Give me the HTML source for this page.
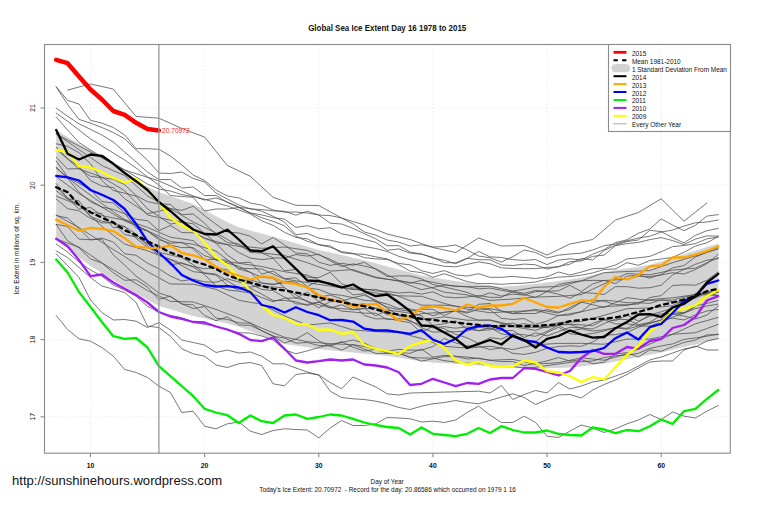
<!DOCTYPE html>
<html><head><meta charset="utf-8"><style>
html,body{margin:0;padding:0;background:#fff;}
svg{display:block;font-family:"Liberation Sans", sans-serif;}
</style></head><body>
<svg width="759" height="506" viewBox="0 0 759 506">
<rect width="759" height="506" fill="#fff"/>
<line x1="90.5" y1="44.5" x2="90.5" y2="453.2" stroke="#e8e8e8" stroke-width="0.8" stroke-dasharray="1.5,2"/>
<line x1="204.6" y1="44.5" x2="204.6" y2="453.2" stroke="#e8e8e8" stroke-width="0.8" stroke-dasharray="1.5,2"/>
<line x1="318.8" y1="44.5" x2="318.8" y2="453.2" stroke="#e8e8e8" stroke-width="0.8" stroke-dasharray="1.5,2"/>
<line x1="432.9" y1="44.5" x2="432.9" y2="453.2" stroke="#e8e8e8" stroke-width="0.8" stroke-dasharray="1.5,2"/>
<line x1="547.0" y1="44.5" x2="547.0" y2="453.2" stroke="#e8e8e8" stroke-width="0.8" stroke-dasharray="1.5,2"/>
<line x1="661.2" y1="44.5" x2="661.2" y2="453.2" stroke="#e8e8e8" stroke-width="0.8" stroke-dasharray="1.5,2"/>
<line x1="44.5" y1="416.8" x2="730.3" y2="416.8" stroke="#e8e8e8" stroke-width="0.8" stroke-dasharray="1.5,2"/>
<line x1="44.5" y1="339.6" x2="730.3" y2="339.6" stroke="#e8e8e8" stroke-width="0.8" stroke-dasharray="1.5,2"/>
<line x1="44.5" y1="262.4" x2="730.3" y2="262.4" stroke="#e8e8e8" stroke-width="0.8" stroke-dasharray="1.5,2"/>
<line x1="44.5" y1="185.2" x2="730.3" y2="185.2" stroke="#e8e8e8" stroke-width="0.8" stroke-dasharray="1.5,2"/>
<line x1="44.5" y1="108.0" x2="730.3" y2="108.0" stroke="#e8e8e8" stroke-width="0.8" stroke-dasharray="1.5,2"/>
<polygon points="56.2,130.0 67.6,137.0 79.0,144.0 90.5,150.0 101.9,157.5 113.3,165.0 124.7,172.5 136.1,180.0 147.5,187.0 158.9,192.0 170.4,196.0 181.8,200.0 193.2,204.0 204.6,210.1 216.0,216.2 227.4,222.3 238.8,227.3 250.3,230.5 261.7,233.6 273.1,236.8 284.5,240.0 295.9,243.3 307.3,246.7 318.8,250.0 330.2,252.6 341.6,255.1 353.0,257.7 364.4,260.2 375.8,263.2 387.2,266.4 398.7,269.5 410.1,272.4 421.5,275.4 432.9,277.5 444.3,279.3 455.7,281.1 467.1,282.8 478.6,284.3 490.0,285.8 501.4,286.8 512.8,285.9 524.2,285.0 535.6,284.1 547.0,282.6 558.5,281.1 569.9,279.6 581.3,277.5 592.7,274.9 604.1,272.3 615.5,270.1 627.0,268.4 638.4,266.7 649.8,265.0 661.2,261.4 672.6,257.8 684.0,254.2 695.4,250.7 706.9,247.1 718.3,243.5 718.3,339.0 706.9,341.7 695.4,344.4 684.0,347.1 672.6,349.8 661.2,352.5 649.8,354.8 638.4,357.0 627.0,359.2 615.5,361.5 604.1,363.8 592.7,365.1 581.3,366.5 569.9,367.6 558.5,367.9 547.0,368.2 535.6,368.5 524.2,368.1 512.8,367.6 501.4,366.9 490.0,366.1 478.6,365.4 467.1,364.6 455.7,363.8 444.3,363.2 432.9,362.5 421.5,361.6 410.1,359.6 398.7,357.5 387.2,355.9 375.8,354.8 364.4,353.7 353.0,352.5 341.6,351.3 330.2,350.2 318.8,349.0 307.3,347.3 295.9,345.7 284.5,344.0 273.1,339.7 261.7,335.4 250.3,331.0 238.8,326.7 227.4,323.5 216.0,321.0 204.6,318.5 193.2,316.0 181.8,312.7 170.4,309.3 158.9,306.0 147.5,299.7 136.1,293.3 124.7,287.0 113.3,280.0 101.9,273.0 90.5,266.0 79.0,257.2 67.6,248.3 56.2,239.5" fill="#d3d3d3" stroke="none"/>
<polyline points="67.6,90.1 79.0,87.0 90.5,84.0 101.9,86.5 113.3,89.1 124.7,102.8 136.1,116.5 147.5,117.3 158.9,118.2 170.4,123.3 181.8,128.5 193.2,132.8 204.6,137.1 216.0,151.3 227.4,165.5 238.8,170.9 250.3,176.3 261.7,186.8 273.1,197.3 284.5,201.3 295.9,205.3 307.3,205.4 318.8,205.5 330.2,211.8 341.6,218.0 353.0,221.5 364.4,225.0 375.8,229.5 387.2,234.0 398.7,236.8 410.1,239.5 421.5,243.5 432.9,247.5 444.3,250.0 455.7,252.5 467.1,245.2 478.6,238.0 490.0,242.0 501.4,246.0 512.8,245.8 524.2,245.5 535.6,250.2 547.0,255.0 558.5,249.5 569.9,244.0 581.3,241.8 592.7,239.5 604.1,229.8 615.5,220.0 627.0,216.2 638.4,212.5 649.8,205.6 661.2,198.8 672.6,210.0 684.0,221.2 695.4,212.1 706.9,203.0" fill="none" stroke="#4a4a4a" stroke-width="0.75" stroke-linejoin="round" stroke-linecap="round" />
<polyline points="56.2,86.7 67.6,100.4 79.0,104.0 90.5,120.3 101.9,123.1 113.3,127.5 124.7,135.0 136.1,148.7 147.5,148.7 158.9,149.3 170.4,156.0 181.8,165.0 193.2,175.0 204.6,180.5 216.0,190.0 227.4,196.0 238.8,197.9 250.3,203.0 261.7,205.1 273.1,210.0 284.5,212.2 295.9,212.0 307.3,213.0 318.8,215.0 330.2,215.6 341.6,218.0 353.0,223.9 364.4,232.0 375.8,235.2 387.2,240.0 398.7,242.1 410.1,246.0 421.5,244.8 432.9,247.0 444.3,246.6 455.7,245.0 467.1,249.9 478.6,256.0 490.0,257.8 501.4,262.0 512.8,256.7 524.2,250.0 535.6,252.5 547.0,258.0 558.5,255.2 569.9,254.0 581.3,253.2 592.7,250.0 604.1,245.7 615.5,244.0 627.0,240.8 638.4,238.0 649.8,236.2 661.2,232.0 672.6,230.1 684.0,226.0 695.4,222.8 706.9,222.0 718.3,220.0" fill="none" stroke="#4a4a4a" stroke-width="0.75" stroke-linejoin="round" stroke-linecap="round" />
<polyline points="56.2,87.0 67.6,104.4 79.0,119.4 90.5,123.1 101.9,127.5 113.3,132.5 124.7,138.8 136.1,150.0 147.5,160.0 158.9,173.0 170.4,173.5 181.8,172.0 193.2,178.5 204.6,182.0 216.0,193.0 227.4,199.0 238.8,205.0 250.3,209.0 261.7,209.6 273.1,210.8 284.5,211.2 295.9,215.2 307.3,211.2 318.8,215.0 330.2,223.2 341.6,224.0 353.0,228.4 364.4,233.7 375.8,238.9 387.2,245.7 398.7,245.6 410.1,252.0 421.5,253.9 432.9,258.1 444.3,260.3 455.7,263.7 467.1,258.5 478.6,251.4 490.0,256.9 501.4,257.5 512.8,259.7 524.2,260.4 535.6,259.6 547.0,264.6 558.5,260.1 569.9,258.8 581.3,260.0 592.7,254.2 604.1,249.7 615.5,242.6 627.0,239.8 638.4,233.2 649.8,229.1 661.2,218.9 672.6,225.0 684.0,230.7 695.4,225.3 706.9,216.1 718.3,214.6" fill="none" stroke="#4a4a4a" stroke-width="0.75" stroke-linejoin="round" stroke-linecap="round" />
<polyline points="56.2,108.1 67.6,116.3 79.0,123.8 90.5,129.4 101.9,135.0 113.3,142.0 124.7,152.0 136.1,162.0 147.5,172.0 158.9,179.5 170.4,179.5 181.8,188.0 193.2,187.0 204.6,195.5 216.0,195.5 227.4,202.5 238.8,207.5 250.3,213.0 261.7,214.9 273.1,217.7 284.5,219.1 295.9,227.4 307.3,225.7 318.8,228.8 330.2,227.7 341.6,233.8 353.0,236.0 364.4,239.2 375.8,242.4 387.2,250.4 398.7,248.9 410.1,253.2 421.5,254.3 432.9,257.2 444.3,262.7 455.7,262.8 467.1,258.3 478.6,259.7 490.0,259.8 501.4,265.0 512.8,265.5 524.2,264.1 535.6,264.8 547.0,269.1 558.5,266.4 569.9,264.2 581.3,258.4 592.7,260.0 604.1,250.5 615.5,245.2 627.0,241.5 638.4,240.0 649.8,230.3 661.2,231.6 672.6,237.7 684.0,242.9 695.4,235.3 706.9,230.7 718.3,228.4" fill="none" stroke="#4a4a4a" stroke-width="0.75" stroke-linejoin="round" stroke-linecap="round" />
<polyline points="56.2,113.1 67.6,121.3 79.0,130.0 90.5,138.8 101.9,146.0 113.3,153.0 124.7,160.0 136.1,168.0 147.5,177.0 158.9,185.0 170.4,195.5 181.8,196.5 193.2,197.3 204.6,211.0 216.0,209.0 227.4,209.0 238.8,207.5 250.3,208.5 261.7,211.2 273.1,216.3 284.5,222.1 295.9,234.7 307.3,233.4 318.8,238.1 330.2,240.2 341.6,242.7 353.0,243.6 364.4,246.6 375.8,248.5 387.2,251.5 398.7,256.3 410.1,259.6 421.5,261.9 432.9,264.0 444.3,266.3 455.7,266.8 467.1,264.4 478.6,261.9 490.0,263.7 501.4,267.8 512.8,268.5 524.2,268.7 535.6,268.6 547.0,267.4 558.5,267.0 569.9,261.7 581.3,260.9 592.7,256.4 604.1,255.1 615.5,245.7 627.0,243.6 638.4,242.4 649.8,239.6 661.2,237.6 672.6,240.6 684.0,244.6 695.4,239.1 706.9,235.9 718.3,236.1" fill="none" stroke="#4a4a4a" stroke-width="0.75" stroke-linejoin="round" stroke-linecap="round" />
<polyline points="56.2,116.9 67.6,130.0 79.0,142.5 90.5,150.0 101.9,157.0 113.3,163.0 124.7,170.0 136.1,177.0 147.5,184.0 158.9,189.0 170.4,191.0 181.8,194.6 193.2,196.5 204.6,200.0 216.0,198.0 227.4,202.0 238.8,207.0 250.3,213.0 261.7,217.7 273.1,221.3 284.5,225.8 295.9,236.2 307.3,241.3 318.8,244.6 330.2,246.0 341.6,252.7 353.0,253.8 364.4,254.3 375.8,256.9 387.2,258.8 398.7,264.7 410.1,271.2 421.5,272.6 432.9,277.3 444.3,273.7 455.7,277.7 467.1,281.6 478.6,283.7 490.0,283.5 501.4,284.3 512.8,283.5 524.2,283.2 535.6,282.0 547.0,278.8 558.5,277.1 569.9,276.6 581.3,275.2 592.7,272.9 604.1,269.5 615.5,268.9 627.0,262.7 638.4,265.3 649.8,260.5 661.2,259.0 672.6,257.4 684.0,252.3 695.4,246.0 706.9,242.8 718.3,236.6" fill="none" stroke="#4a4a4a" stroke-width="0.75" stroke-linejoin="round" stroke-linecap="round" />
<polyline points="56.2,134.0 67.6,140.0 79.0,146.0 90.5,152.0 101.9,158.0 113.3,164.0 124.7,170.0 136.1,173.7 147.5,177.3 158.9,181.0 170.4,186.0 181.8,191.0 193.2,196.0 204.6,199.3 216.0,202.7 227.4,206.0 238.8,210.0 250.3,214.0 261.7,220.8 273.1,225.4 284.5,232.3 295.9,237.4 307.3,238.8 318.8,244.8 330.2,247.2 341.6,251.6 353.0,253.4 364.4,257.7 375.8,258.9 387.2,259.5 398.7,263.5 410.1,264.8 421.5,270.7 432.9,273.5 444.3,270.6 455.7,274.9 467.1,276.1 478.6,273.7 490.0,277.3 501.4,277.3 512.8,276.4 524.2,277.5 535.6,278.5 547.0,276.8 558.5,272.0 569.9,275.0 581.3,272.1 592.7,268.7 604.1,268.3 615.5,265.0 627.0,258.9 638.4,257.8 649.8,256.4 661.2,251.8 672.6,246.6 684.0,245.5 695.4,243.6 706.9,238.8 718.3,237.0" fill="none" stroke="#4a4a4a" stroke-width="0.75" stroke-linejoin="round" stroke-linecap="round" />
<polyline points="56.2,253.8 67.6,265.6 79.0,277.5 90.5,300.0 101.9,312.5 113.3,320.0 124.7,319.5 136.1,321.2 147.5,327.5 158.9,322.5 170.4,330.0 181.8,340.0 193.2,342.5 204.6,345.0 216.0,352.5 227.4,350.0 238.8,353.0 250.3,352.0 261.7,356.2 273.1,363.8 284.5,363.8 295.9,368.0 307.3,372.0 318.8,375.0 330.2,391.2 341.6,397.5 353.0,398.8 364.4,399.5 375.8,401.2 387.2,403.8 398.7,407.5 410.1,409.5 421.5,406.2 432.9,403.8 444.3,402.5 455.7,400.5 467.1,402.5 478.6,403.8 490.0,400.4 501.4,397.1 512.8,393.8 524.2,397.5 535.6,404.5 547.0,399.5 558.5,395.0 569.9,394.5 581.3,398.0 592.7,390.0 604.1,384.5 615.5,380.0 627.0,374.5 638.4,368.0 649.8,362.0 661.2,361.0 672.6,361.0 684.0,350.0 695.4,346.0 706.9,350.0 718.3,350.0" fill="none" stroke="#4a4a4a" stroke-width="0.75" stroke-linejoin="round" stroke-linecap="round" />
<polyline points="56.2,251.0 67.6,257.5 79.0,267.5 90.5,277.5 101.9,286.0 113.3,289.2 124.7,292.5 136.1,302.5 147.5,326.2 158.9,327.5 170.4,336.2 181.8,348.8 193.2,353.8 204.6,356.2 216.0,365.0 227.4,367.5 238.8,363.8 250.3,362.5 261.7,365.5 273.1,383.8 284.5,385.8 295.9,374.5 307.3,373.0 318.8,375.0 330.2,382.5 341.6,388.8 353.0,377.0 364.4,382.0 375.8,387.0 387.2,393.8 398.7,395.0 410.1,393.0 421.5,392.7 432.9,392.4 444.3,392.1 455.7,391.8 467.1,391.5 478.6,391.2 490.0,393.0 501.4,385.5 512.8,399.5 524.2,394.5 535.6,390.5 547.0,393.0 558.5,382.5 569.9,389.0 581.3,386.0 592.7,382.0 604.1,380.0 615.5,376.0 627.0,372.0 638.4,366.0 649.8,360.0 661.2,357.0 672.6,353.0 684.0,349.0 695.4,347.0 706.9,341.0 718.3,338.5" fill="none" stroke="#4a4a4a" stroke-width="0.75" stroke-linejoin="round" stroke-linecap="round" />
<polyline points="56.2,315.5 67.6,329.5 79.0,338.8 90.5,341.2 101.9,347.5 113.3,356.2 124.7,369.5 136.1,372.5 147.5,377.5 158.9,386.2 170.4,392.5 181.8,412.5 193.2,411.2 204.6,426.2 216.0,428.8 227.4,423.8 238.8,422.0 250.3,431.2 261.7,434.5 273.1,430.5 284.5,428.8 295.9,429.5 307.3,430.0 318.8,438.0 330.2,428.0 341.6,420.5 353.0,425.5 364.4,425.5 375.8,423.8 387.2,417.5 398.7,418.0 410.1,418.8 421.5,422.0 432.9,421.2 444.3,422.5 455.7,420.0 467.1,412.5 478.6,406.2 490.0,415.0 501.4,422.5 512.8,422.5 524.2,416.2 535.6,422.5 547.0,436.2 558.5,437.5 569.9,431.2 581.3,425.0 592.7,428.0 604.1,432.5 615.5,428.8 627.0,423.8 638.4,420.0 649.8,414.5 661.2,419.5 672.6,412.0 684.0,416.2 695.4,418.0 706.9,411.2 718.3,405.5" fill="none" stroke="#4a4a4a" stroke-width="0.75" stroke-linejoin="round" stroke-linecap="round" />
<polyline points="56.2,244.0 67.6,252.1 79.0,262.1 90.5,270.0 101.9,276.2 113.3,285.0 124.7,290.0 136.1,296.3 147.5,306.3 158.9,312.0 170.4,315.4 181.8,317.7 193.2,322.0 204.6,324.5 216.0,326.0 227.4,330.0 238.8,332.7 250.3,333.1 261.7,336.0 273.1,340.0 284.5,349.8 295.9,353.8 307.3,350.9 318.8,347.5 330.2,344.5 341.6,342.5 353.0,340.0 364.4,343.1 375.8,348.4 387.2,352.0 398.7,353.0 410.1,357.3 421.5,358.0 432.9,358.0 444.3,360.7 455.7,362.0 467.1,363.2 478.6,363.2 490.0,365.0 501.4,367.0 512.8,366.6 524.2,368.0 535.6,367.2 547.0,365.6 558.5,364.0 569.9,362.3 581.3,361.6 592.7,361.0 604.1,357.5 615.5,355.8 627.0,355.0 638.4,353.3 649.8,348.4 661.2,346.0 672.6,343.9 684.0,339.3 695.4,338.0 706.9,336.2 718.3,334.0" fill="none" stroke="#4a4a4a" stroke-width="0.75" stroke-linejoin="round" stroke-linecap="round" />
<polyline points="56.2,133.8 67.6,141.7 79.0,149.6 90.5,157.5 101.9,165.5 113.3,170.6 124.7,175.6 136.1,185.7 147.5,195.9 158.9,202.3 170.4,208.7 181.8,215.3 193.2,222.0 204.6,227.4 216.0,232.9 227.4,239.4 238.8,245.8 250.3,247.1 261.7,248.3 273.1,247.7 284.5,247.0 295.9,248.7 307.3,250.5 318.8,254.9 330.2,259.3 341.6,265.0 353.0,270.6 364.4,274.2 375.8,277.8 387.2,279.3 398.7,280.8 410.1,282.5 421.5,284.1 432.9,288.2 444.3,292.2 455.7,293.5 467.1,294.9 478.6,297.6 490.0,300.4 501.4,299.7 512.8,299.0 524.2,298.0 535.6,297.1 547.0,296.7 558.5,296.4 569.9,295.5 581.3,294.6 592.7,289.2 604.1,283.8 615.5,278.7 627.0,273.6 638.4,274.2 649.8,274.8 661.2,272.4 672.6,270.1 684.0,269.1 695.4,268.1 706.9,262.8 718.3,257.6" fill="none" stroke="#4a4a4a" stroke-width="0.75" stroke-linejoin="round" stroke-linecap="round" />
<polyline points="56.2,147.2 67.6,158.8 79.0,166.4 90.5,180.6 101.9,186.0 113.3,187.5 124.7,198.7 136.1,206.1 147.5,213.7 158.9,211.2 170.4,208.5 181.8,210.4 193.2,206.2 204.6,215.6 216.0,224.3 227.4,232.1 238.8,233.0 250.3,236.2 261.7,244.0 273.1,237.4 284.5,245.0 295.9,253.0 307.3,253.8 318.8,262.2 330.2,265.4 341.6,263.3 353.0,265.2 364.4,262.3 375.8,269.3 387.2,276.5 398.7,275.9 410.1,276.0 421.5,278.9 432.9,284.4 444.3,287.0 455.7,289.6 467.1,292.4 478.6,296.9 490.0,292.8 501.4,296.1 512.8,294.1 524.2,295.1 535.6,291.6 547.0,291.2 558.5,290.8 569.9,285.3 581.3,291.5 592.7,284.0 604.1,280.4 615.5,283.6 627.0,276.2 638.4,275.0 649.8,278.1 661.2,274.4 672.6,267.9 684.0,265.6 695.4,257.0 706.9,252.3 718.3,247.7" fill="none" stroke="#4a4a4a" stroke-width="0.75" stroke-linejoin="round" stroke-linecap="round" />
<polyline points="56.2,143.8 67.6,146.3 79.0,152.7 90.5,163.8 101.9,180.5 113.3,190.5 124.7,193.2 136.1,196.2 147.5,208.9 158.9,216.3 170.4,224.2 181.8,221.6 193.2,231.7 204.6,238.4 216.0,241.4 227.4,244.7 238.8,252.5 250.3,258.1 261.7,259.6 273.1,258.4 284.5,270.8 295.9,269.5 307.3,277.2 318.8,277.6 330.2,272.3 341.6,283.7 353.0,287.9 364.4,288.9 375.8,291.0 387.2,291.4 398.7,293.0 410.1,292.2 421.5,294.1 432.9,291.8 444.3,296.9 455.7,297.8 467.1,297.0 478.6,295.5 490.0,297.3 501.4,297.3 512.8,291.3 524.2,293.3 535.6,290.5 547.0,291.3 558.5,284.4 569.9,282.3 581.3,280.8 592.7,280.4 604.1,280.5 615.5,279.9 627.0,279.4 638.4,276.2 649.8,276.6 661.2,275.0 672.6,272.7 684.0,274.0 695.4,269.6 706.9,263.7 718.3,254.2" fill="none" stroke="#4a4a4a" stroke-width="0.75" stroke-linejoin="round" stroke-linecap="round" />
<polyline points="56.2,149.1 67.6,159.0 79.0,169.0 90.5,173.0 101.9,177.1 113.3,183.9 124.7,190.7 136.1,202.8 147.5,215.0 158.9,217.6 170.4,220.2 181.8,222.0 193.2,223.8 204.6,233.4 216.0,243.0 227.4,244.6 238.8,246.3 250.3,249.5 261.7,252.8 273.1,254.2 284.5,255.6 295.9,259.2 307.3,262.7 318.8,266.9 330.2,271.1 341.6,270.4 353.0,269.6 364.4,273.4 375.8,277.1 387.2,279.1 398.7,281.1 410.1,285.4 421.5,289.7 432.9,287.4 444.3,285.1 455.7,286.0 467.1,286.9 478.6,286.6 490.0,286.2 501.4,288.7 512.8,291.1 524.2,289.2 535.6,287.3 547.0,286.9 558.5,286.5 569.9,283.7 581.3,280.9 592.7,276.8 604.1,272.7 615.5,272.1 627.0,271.5 638.4,271.1 649.8,270.6 661.2,266.6 672.6,262.7 684.0,259.3 695.4,255.9 706.9,252.4 718.3,248.9" fill="none" stroke="#4a4a4a" stroke-width="0.75" stroke-linejoin="round" stroke-linecap="round" />
<polyline points="56.2,157.3 67.6,169.0 79.0,168.6 90.5,176.3 101.9,177.8 113.3,179.2 124.7,184.7 136.1,195.5 147.5,201.7 158.9,203.9 170.4,204.4 181.8,214.7 193.2,214.0 204.6,223.2 216.0,234.7 227.4,242.6 238.8,243.9 250.3,252.4 261.7,253.0 273.1,257.8 284.5,258.2 295.9,254.5 307.3,256.1 318.8,254.3 330.2,260.8 341.6,266.6 353.0,263.9 364.4,266.0 375.8,268.8 387.2,274.9 398.7,280.4 410.1,283.1 421.5,280.3 432.9,282.2 444.3,284.6 455.7,286.4 467.1,286.6 478.6,288.8 490.0,288.1 501.4,290.3 512.8,292.1 524.2,294.6 535.6,297.4 547.0,291.6 558.5,294.2 569.9,298.2 581.3,292.6 592.7,293.2 604.1,294.5 615.5,286.6 627.0,286.7 638.4,288.2 649.8,287.7 661.2,285.2 672.6,274.9 684.0,269.4 695.4,264.3 706.9,260.3 718.3,258.6" fill="none" stroke="#4a4a4a" stroke-width="0.75" stroke-linejoin="round" stroke-linecap="round" />
<polyline points="56.2,160.9 67.6,177.0 79.0,183.4 90.5,189.7 101.9,201.5 113.3,203.0 124.7,213.1 136.1,228.0 147.5,231.1 158.9,238.2 170.4,245.1 181.8,247.6 193.2,247.6 204.6,255.7 216.0,259.4 227.4,260.1 238.8,269.0 250.3,272.3 261.7,277.2 273.1,278.4 284.5,287.5 295.9,298.3 307.3,292.0 318.8,301.5 330.2,298.6 341.6,301.2 353.0,297.6 364.4,295.2 375.8,300.2 387.2,308.2 398.7,315.7 410.1,316.5 421.5,313.7 432.9,312.9 444.3,312.6 455.7,310.6 467.1,313.1 478.6,309.0 490.0,309.8 501.4,318.4 512.8,319.5 524.2,318.5 535.6,324.4 547.0,321.1 558.5,315.5 569.9,315.0 581.3,311.6 592.7,302.7 604.1,300.2 615.5,301.2 627.0,302.7 638.4,302.8 649.8,303.4 661.2,299.8 672.6,301.6 684.0,302.4 695.4,293.3 706.9,293.2 718.3,291.1" fill="none" stroke="#4a4a4a" stroke-width="0.75" stroke-linejoin="round" stroke-linecap="round" />
<polyline points="56.2,168.0 67.6,177.4 79.0,186.8 90.5,195.2 101.9,203.7 113.3,211.6 124.7,219.6 136.1,223.5 147.5,227.4 158.9,232.3 170.4,237.2 181.8,238.9 193.2,240.6 204.6,250.3 216.0,260.1 227.4,261.7 238.8,263.3 250.3,264.9 261.7,266.5 273.1,269.1 284.5,271.7 295.9,273.4 307.3,275.1 318.8,279.9 330.2,284.7 341.6,286.8 353.0,288.9 364.4,291.0 375.8,293.1 387.2,294.5 398.7,295.8 410.1,296.1 421.5,296.3 432.9,299.8 444.3,303.4 455.7,306.3 467.1,309.2 478.6,311.0 490.0,312.8 501.4,312.1 512.8,311.4 524.2,311.0 535.6,310.6 547.0,313.1 558.5,315.6 569.9,313.7 581.3,311.8 592.7,309.2 604.1,306.6 615.5,306.0 627.0,305.4 638.4,302.5 649.8,299.6 661.2,298.7 672.6,297.8 684.0,296.2 695.4,294.5 706.9,292.2 718.3,289.9" fill="none" stroke="#4a4a4a" stroke-width="0.75" stroke-linejoin="round" stroke-linecap="round" />
<polyline points="56.2,167.2 67.6,178.3 79.0,192.2 90.5,201.7 101.9,207.1 113.3,209.4 124.7,213.9 136.1,219.3 147.5,220.7 158.9,230.7 170.4,225.4 181.8,232.6 193.2,232.8 204.6,237.9 216.0,243.2 227.4,255.1 238.8,263.0 250.3,262.1 261.7,274.0 273.1,271.1 284.5,278.6 295.9,277.9 307.3,286.6 318.8,280.8 330.2,283.3 341.6,286.1 353.0,294.9 364.4,293.7 375.8,301.8 387.2,307.1 398.7,309.7 410.1,311.3 421.5,309.2 432.9,309.3 444.3,315.6 455.7,310.1 467.1,312.1 478.6,304.3 490.0,303.5 501.4,311.2 512.8,313.7 524.2,313.5 535.6,313.5 547.0,309.5 558.5,312.2 569.9,309.5 581.3,302.3 592.7,299.8 604.1,301.2 615.5,304.6 627.0,304.8 638.4,304.0 649.8,297.5 661.2,295.6 672.6,285.6 684.0,284.8 695.4,285.2 706.9,280.3 718.3,271.9" fill="none" stroke="#4a4a4a" stroke-width="0.75" stroke-linejoin="round" stroke-linecap="round" />
<polyline points="56.2,183.6 67.6,198.7 79.0,200.8 90.5,216.6 101.9,221.2 113.3,223.2 124.7,226.5 136.1,238.4 147.5,247.4 158.9,252.2 170.4,265.0 181.8,262.8 193.2,266.9 204.6,274.7 216.0,285.8 227.4,290.0 238.8,291.2 250.3,293.1 261.7,297.5 273.1,301.7 284.5,298.3 295.9,297.9 307.3,300.8 318.8,307.9 330.2,301.5 341.6,301.2 353.0,305.1 364.4,303.8 375.8,308.8 387.2,314.7 398.7,314.4 410.1,321.4 421.5,325.0 432.9,327.8 444.3,326.7 455.7,328.2 467.1,326.8 478.6,330.9 490.0,327.5 501.4,333.9 512.8,335.4 524.2,339.4 535.6,341.7 547.0,332.5 558.5,327.2 569.9,333.7 581.3,334.8 592.7,333.5 604.1,331.0 615.5,327.4 627.0,328.4 638.4,321.8 649.8,314.9 661.2,311.8 672.6,308.0 684.0,300.2 695.4,298.2 706.9,293.1 718.3,295.4" fill="none" stroke="#4a4a4a" stroke-width="0.75" stroke-linejoin="round" stroke-linecap="round" />
<polyline points="56.2,176.6 67.6,185.1 79.0,193.5 90.5,200.4 101.9,207.2 113.3,214.0 124.7,220.8 136.1,225.8 147.5,230.8 158.9,236.2 170.4,241.5 181.8,242.8 193.2,244.2 204.6,247.6 216.0,251.1 227.4,259.7 238.8,268.2 250.3,268.6 261.7,269.0 273.1,274.0 284.5,279.0 295.9,280.8 307.3,282.6 318.8,284.4 330.2,286.1 341.6,287.9 353.0,289.6 364.4,289.5 375.8,289.4 387.2,292.8 398.7,296.2 410.1,300.7 421.5,305.2 432.9,305.2 444.3,305.2 455.7,306.2 467.1,307.3 478.6,308.0 490.0,308.6 501.4,310.9 512.8,313.2 524.2,311.3 535.6,309.4 547.0,311.2 558.5,313.1 569.9,307.5 581.3,302.0 592.7,304.7 604.1,307.5 615.5,302.6 627.0,297.7 638.4,299.1 649.8,300.5 661.2,300.2 672.6,300.0 684.0,297.3 695.4,294.6 706.9,293.2 718.3,291.9" fill="none" stroke="#4a4a4a" stroke-width="0.75" stroke-linejoin="round" stroke-linecap="round" />
<polyline points="56.2,190.7 67.6,199.1 79.0,204.7 90.5,212.4 101.9,213.5 113.3,227.8 124.7,226.7 136.1,234.0 147.5,245.7 158.9,255.4 170.4,259.3 181.8,263.5 193.2,266.6 204.6,268.7 216.0,267.9 227.4,269.9 238.8,280.4 250.3,280.1 261.7,283.1 273.1,284.2 284.5,282.9 295.9,283.2 307.3,287.8 318.8,297.3 330.2,295.0 341.6,298.9 353.0,304.5 364.4,315.5 375.8,318.9 387.2,318.6 398.7,320.6 410.1,322.7 421.5,332.7 432.9,326.1 444.3,328.7 455.7,334.4 467.1,337.8 478.6,343.5 490.0,337.7 501.4,339.0 512.8,333.8 524.2,334.8 535.6,336.3 547.0,331.4 558.5,325.0 569.9,324.5 581.3,328.1 592.7,329.0 604.1,323.5 615.5,319.1 627.0,319.6 638.4,324.7 649.8,322.3 661.2,315.4 672.6,314.2 684.0,316.0 695.4,319.0 706.9,315.1 718.3,306.0" fill="none" stroke="#4a4a4a" stroke-width="0.75" stroke-linejoin="round" stroke-linecap="round" />
<polyline points="56.2,186.9 67.6,198.1 79.0,209.1 90.5,207.5 101.9,215.6 113.3,218.0 124.7,219.9 136.1,225.2 147.5,230.9 158.9,239.7 170.4,243.3 181.8,242.3 193.2,249.0 204.6,259.4 216.0,259.6 227.4,263.1 238.8,266.3 250.3,272.3 261.7,283.0 273.1,284.7 284.5,281.2 295.9,282.1 307.3,288.0 318.8,289.4 330.2,294.1 341.6,295.3 353.0,297.6 364.4,300.3 375.8,301.1 387.2,304.1 398.7,308.5 410.1,308.9 421.5,311.7 432.9,315.7 444.3,312.1 455.7,311.0 467.1,316.5 478.6,320.2 490.0,320.0 501.4,322.5 512.8,325.6 524.2,323.7 535.6,325.6 547.0,327.4 558.5,325.4 569.9,331.4 581.3,328.8 592.7,331.0 604.1,329.8 615.5,327.7 627.0,329.2 638.4,326.0 649.8,326.2 661.2,322.0 672.6,317.2 684.0,312.9 695.4,306.9 706.9,294.4 718.3,292.2" fill="none" stroke="#4a4a4a" stroke-width="0.75" stroke-linejoin="round" stroke-linecap="round" />
<polyline points="56.2,196.1 67.6,200.7 79.0,205.4 90.5,215.9 101.9,226.4 113.3,235.3 124.7,244.1 136.1,247.5 147.5,250.8 158.9,255.2 170.4,259.6 181.8,265.6 193.2,271.7 204.6,272.9 216.0,274.1 227.4,280.9 238.8,287.7 250.3,286.9 261.7,286.2 273.1,287.0 284.5,287.9 295.9,294.8 307.3,301.8 318.8,304.7 330.2,307.7 341.6,308.6 353.0,309.6 364.4,308.7 375.8,307.8 387.2,311.7 398.7,315.6 410.1,317.7 421.5,319.9 432.9,318.3 444.3,316.8 455.7,318.5 467.1,320.2 478.6,320.2 490.0,320.2 501.4,323.4 512.8,326.6 524.2,328.5 535.6,330.3 547.0,326.4 558.5,322.5 569.9,322.0 581.3,321.5 592.7,318.4 604.1,315.3 615.5,312.0 627.0,308.7 638.4,308.3 649.8,307.9 661.2,306.9 672.6,305.8 684.0,300.0 695.4,294.2 706.9,294.9 718.3,295.6" fill="none" stroke="#4a4a4a" stroke-width="0.75" stroke-linejoin="round" stroke-linecap="round" />
<polyline points="56.2,198.9 67.6,208.7 79.0,210.8 90.5,218.4 101.9,222.9 113.3,222.8 124.7,234.5 136.1,236.9 147.5,243.8 158.9,252.2 170.4,255.0 181.8,257.5 193.2,264.6 204.6,273.3 216.0,275.0 227.4,285.3 238.8,290.0 250.3,288.2 261.7,294.1 273.1,300.5 284.5,300.5 295.9,301.7 307.3,305.5 318.8,302.1 330.2,308.0 341.6,304.8 353.0,309.6 364.4,308.3 375.8,315.8 387.2,310.0 398.7,311.5 410.1,313.2 421.5,315.7 432.9,325.3 444.3,323.8 455.7,320.8 467.1,329.3 478.6,330.5 490.0,329.9 501.4,324.4 512.8,323.1 524.2,327.4 535.6,327.3 547.0,327.6 558.5,324.2 569.9,324.1 581.3,324.9 592.7,325.7 604.1,319.8 615.5,323.9 627.0,323.8 638.4,325.5 649.8,323.6 661.2,319.9 672.6,311.2 684.0,313.0 695.4,308.7 706.9,306.0 718.3,304.1" fill="none" stroke="#4a4a4a" stroke-width="0.75" stroke-linejoin="round" stroke-linecap="round" />
<polyline points="56.2,215.5 67.6,218.0 79.0,228.5 90.5,240.0 101.9,238.1 113.3,242.0 124.7,253.7 136.1,255.3 147.5,263.2 158.9,268.8 170.4,276.1 181.8,281.0 193.2,279.1 204.6,281.9 216.0,282.2 227.4,278.8 238.8,282.1 250.3,283.9 261.7,289.4 273.1,290.6 284.5,297.2 295.9,303.8 307.3,304.4 318.8,302.0 330.2,306.5 341.6,311.1 353.0,312.0 364.4,313.2 375.8,313.2 387.2,319.7 398.7,318.5 410.1,320.4 421.5,327.7 432.9,332.1 444.3,331.8 455.7,331.7 467.1,331.1 478.6,327.2 490.0,328.7 501.4,330.6 512.8,330.5 524.2,337.5 535.6,332.8 547.0,335.9 558.5,331.6 569.9,327.3 581.3,327.9 592.7,323.5 604.1,319.2 615.5,320.8 627.0,315.0 638.4,321.2 649.8,316.2 661.2,313.9 672.6,313.4 684.0,313.2 695.4,305.8 706.9,303.4 718.3,300.5" fill="none" stroke="#4a4a4a" stroke-width="0.75" stroke-linejoin="round" stroke-linecap="round" />
<polyline points="56.2,215.1 67.6,221.4 79.0,227.6 90.5,235.0 101.9,242.3 113.3,249.5 124.7,256.6 136.1,264.2 147.5,271.7 158.9,277.9 170.4,284.0 181.8,284.1 193.2,284.2 204.6,286.7 216.0,289.3 227.4,294.8 238.8,300.3 250.3,302.3 261.7,304.2 273.1,310.1 284.5,315.9 295.9,320.5 307.3,325.0 318.8,324.0 330.2,322.9 341.6,326.5 353.0,330.0 364.4,330.8 375.8,331.6 387.2,332.1 398.7,332.5 410.1,335.5 421.5,338.5 432.9,342.4 444.3,346.3 455.7,347.2 467.1,348.0 478.6,347.2 490.0,346.3 501.4,347.9 512.8,349.5 524.2,347.1 535.6,344.8 547.0,344.1 558.5,343.4 569.9,343.4 581.3,343.3 592.7,343.8 604.1,344.2 615.5,341.7 627.0,339.1 638.4,339.1 649.8,339.1 661.2,336.7 672.6,334.3 684.0,329.1 695.4,323.8 706.9,320.6 718.3,317.4" fill="none" stroke="#4a4a4a" stroke-width="0.75" stroke-linejoin="round" stroke-linecap="round" />
<polyline points="56.2,224.4 67.6,226.5 79.0,239.1 90.5,239.7 101.9,239.3 113.3,254.8 124.7,265.2 136.1,276.2 147.5,284.3 158.9,293.0 170.4,296.6 181.8,303.7 193.2,308.5 204.6,306.6 216.0,318.1 227.4,319.4 238.8,322.9 250.3,323.2 261.7,330.8 273.1,336.0 284.5,343.0 295.9,339.1 307.3,332.6 318.8,340.9 330.2,346.3 341.6,341.6 353.0,347.2 364.4,351.1 375.8,349.1 387.2,351.4 398.7,349.3 410.1,350.2 421.5,350.1 432.9,346.5 444.3,338.5 455.7,343.0 467.1,345.9 478.6,346.0 490.0,349.5 501.4,348.0 512.8,353.3 524.2,354.4 535.6,352.3 547.0,348.3 558.5,346.5 569.9,345.8 581.3,346.4 592.7,341.9 604.1,335.2 615.5,334.6 627.0,332.5 638.4,327.3 649.8,322.8 661.2,320.1 672.6,318.1 684.0,320.0 695.4,314.8 706.9,311.0 718.3,309.4" fill="none" stroke="#4a4a4a" stroke-width="0.75" stroke-linejoin="round" stroke-linecap="round" />
<polyline points="56.2,224.5 67.6,240.8 79.0,247.8 90.5,258.9 101.9,263.0 113.3,272.7 124.7,280.3 136.1,279.8 147.5,287.1 158.9,299.4 170.4,296.2 181.8,304.1 193.2,304.9 204.6,315.5 216.0,320.7 227.4,316.8 238.8,325.0 250.3,325.4 261.7,330.6 273.1,336.2 284.5,338.1 295.9,343.1 307.3,342.5 318.8,345.5 330.2,345.8 341.6,350.1 353.0,344.6 364.4,346.6 375.8,348.9 387.2,353.2 398.7,352.6 410.1,353.3 421.5,349.0 432.9,357.1 444.3,355.4 455.7,356.1 467.1,359.0 478.6,358.1 490.0,360.3 501.4,361.6 512.8,361.5 524.2,365.5 535.6,363.4 547.0,360.9 558.5,357.5 569.9,361.1 581.3,359.6 592.7,363.7 604.1,362.2 615.5,354.0 627.0,352.7 638.4,357.0 649.8,349.8 661.2,351.3 672.6,346.6 684.0,342.4 695.4,340.1 706.9,334.8 718.3,334.7" fill="none" stroke="#4a4a4a" stroke-width="0.75" stroke-linejoin="round" stroke-linecap="round" />
<polyline points="56.2,239.0 67.6,243.1 79.0,247.2 90.5,255.1 101.9,262.9 113.3,269.8 124.7,276.7 136.1,283.6 147.5,290.5 158.9,296.0 170.4,301.4 181.8,301.7 193.2,302.0 204.6,305.7 216.0,309.4 227.4,313.7 238.8,317.9 250.3,323.0 261.7,328.1 273.1,332.7 284.5,337.2 295.9,339.4 307.3,341.7 318.8,342.7 330.2,343.7 341.6,344.2 353.0,344.7 364.4,349.1 375.8,353.4 387.2,353.4 398.7,353.4 410.1,357.2 421.5,361.1 432.9,358.8 444.3,356.5 455.7,356.7 467.1,357.0 478.6,358.6 490.0,360.2 501.4,359.8 512.8,359.4 524.2,361.8 535.6,364.1 547.0,363.4 558.5,362.7 569.9,360.3 581.3,357.8 592.7,359.0 604.1,360.2 615.5,357.0 627.0,353.7 638.4,348.9 649.8,344.1 661.2,339.1 672.6,334.2 684.0,333.5 695.4,332.7 706.9,328.5 718.3,324.3" fill="none" stroke="#4a4a4a" stroke-width="0.75" stroke-linejoin="round" stroke-linecap="round" />
<polyline points="56.2,238.8 67.6,246.2 79.0,260.0 90.5,276.2 101.9,274.5 113.3,282.5 124.7,288.8 136.1,295.0 147.5,302.5 158.9,312.0 170.4,316.5 181.8,318.8 193.2,322.0 204.6,322.5 216.0,326.5 227.4,329.5 238.8,333.8 250.3,340.0 261.7,341.2 273.1,337.5 284.5,348.8 295.9,360.5 307.3,362.5 318.8,361.2 330.2,359.5 341.6,360.5 353.0,359.5 364.4,364.5 375.8,365.5 387.2,367.5 398.7,372.2 410.1,385.0 421.5,383.8 432.9,378.8 444.3,382.5 455.7,386.2 467.1,383.0 478.6,383.8 490.0,379.5 501.4,378.0 512.8,378.0 524.2,368.0 535.6,368.8 547.0,372.0 558.5,375.5 569.9,371.0 581.3,358.0 592.7,350.0 604.1,353.8 615.5,353.8 627.0,347.0 638.4,348.8 649.8,341.0 661.2,339.0 672.6,328.0 684.0,325.0 695.4,317.0 706.9,300.5 718.3,296.2" fill="none" stroke="#a020f0" stroke-width="2.3" stroke-linejoin="round" stroke-linecap="round" />
<polyline points="56.2,259.5 67.6,272.5 79.0,292.0 90.5,307.0 101.9,322.0 113.3,336.2 124.7,338.8 136.1,338.0 147.5,347.5 158.9,366.2 170.4,376.2 181.8,386.2 193.2,396.2 204.6,408.8 216.0,412.5 227.4,415.2 238.8,423.0 250.3,415.5 261.7,421.2 273.1,423.0 284.5,415.5 295.9,414.5 307.3,418.8 318.8,417.0 330.2,414.5 341.6,415.5 353.0,418.8 364.4,422.5 375.8,425.0 387.2,427.0 398.7,428.0 410.1,434.5 421.5,427.5 432.9,433.8 444.3,435.0 455.7,436.2 467.1,433.8 478.6,428.0 490.0,433.0 501.4,426.2 512.8,430.0 524.2,432.5 535.6,432.5 547.0,430.5 558.5,433.8 569.9,435.0 581.3,435.5 592.7,427.5 604.1,429.5 615.5,433.2 627.0,430.0 638.4,431.2 649.8,426.2 661.2,419.5 672.6,423.8 684.0,411.2 695.4,408.8 706.9,398.8 718.3,390.0" fill="none" stroke="#00ee00" stroke-width="2.3" stroke-linejoin="round" stroke-linecap="round" />
<polyline points="56.2,150.0 67.6,152.0 79.0,166.2 90.5,167.5 101.9,172.0 113.3,178.0 124.7,182.5 136.1,178.8 147.5,190.0 158.9,202.0 170.4,217.5 181.8,225.8 193.2,230.7 204.6,242.7 216.0,257.0 227.4,265.5 238.8,277.5 250.3,291.2 261.7,305.6 273.1,315.0 284.5,318.0 295.9,323.8 307.3,324.5 318.8,330.0 330.2,329.5 341.6,333.8 353.0,332.0 364.4,345.0 375.8,348.8 387.2,351.2 398.7,354.0 410.1,346.0 421.5,342.2 432.9,340.0 444.3,347.7 455.7,360.6 467.1,364.4 478.6,362.0 490.0,365.5 501.4,367.0 512.8,366.2 524.2,360.5 535.6,362.5 547.0,371.2 558.5,372.5 569.9,376.0 581.3,382.0 592.7,377.0 604.1,379.5 615.5,367.0 627.0,355.0 638.4,346.0 649.8,331.5 661.2,322.5 672.6,311.2 684.0,308.8 695.4,305.5 706.9,296.0 718.3,290.0" fill="none" stroke="#ffff00" stroke-width="2.3" stroke-linejoin="round" stroke-linecap="round" />
<polyline points="56.2,175.8 67.6,177.4 79.0,180.5 90.5,190.0 101.9,194.8 113.3,200.0 124.7,209.0 136.1,224.0 147.5,241.4 158.9,253.0 170.4,263.0 181.8,275.0 193.2,280.5 204.6,285.0 216.0,286.5 227.4,286.2 238.8,287.5 250.3,292.0 261.7,305.0 273.1,307.5 284.5,312.5 295.9,307.2 307.3,312.0 318.8,315.2 330.2,320.2 341.6,320.0 353.0,321.6 364.4,328.7 375.8,330.5 387.2,330.5 398.7,332.2 410.1,333.8 421.5,330.2 432.9,339.7 444.3,344.0 455.7,338.8 467.1,329.0 478.6,326.2 490.0,325.5 501.4,328.8 512.8,336.2 524.2,340.6 535.6,342.0 547.0,347.5 558.5,352.0 569.9,352.5 581.3,352.0 592.7,351.2 604.1,348.0 615.5,338.2 627.0,332.5 638.4,339.5 649.8,327.2 661.2,323.8 672.6,313.0 684.0,301.2 695.4,296.2 706.9,283.8 718.3,280.5" fill="none" stroke="#0000ff" stroke-width="2.3" stroke-linejoin="round" stroke-linecap="round" />
<polyline points="56.2,219.6 67.6,225.3 79.0,230.7 90.5,228.0 101.9,228.8 113.3,231.1 124.7,238.2 136.1,246.9 147.5,247.7 158.9,248.0 170.4,245.4 181.8,253.0 193.2,255.4 204.6,259.0 216.0,266.8 227.4,272.5 238.8,275.5 250.3,279.5 261.7,276.2 273.1,277.5 284.5,282.5 295.9,283.8 307.3,287.5 318.8,295.0 330.2,299.5 341.6,301.2 353.0,307.0 364.4,305.0 375.8,303.8 387.2,312.0 398.7,320.5 410.1,316.2 421.5,308.0 432.9,306.2 444.3,308.0 455.7,310.5 467.1,304.5 478.6,307.5 490.0,305.5 501.4,305.5 512.8,303.8 524.2,298.0 535.6,302.5 547.0,307.0 558.5,307.5 569.9,303.8 581.3,300.5 592.7,301.2 604.1,287.0 615.5,277.0 627.0,279.5 638.4,275.0 649.8,266.2 661.2,265.5 672.6,257.5 684.0,257.5 695.4,254.5 706.9,251.2 718.3,246.2" fill="none" stroke="#ffa500" stroke-width="2.3" stroke-linejoin="round" stroke-linecap="round" />
<polyline points="56.2,130.0 67.6,153.8 79.0,159.5 90.5,154.5 101.9,155.8 113.3,163.8 124.7,173.0 136.1,181.2 147.5,190.0 158.9,202.0 170.4,211.0 181.8,221.0 193.2,229.5 204.6,234.0 216.0,234.5 227.4,229.7 238.8,239.5 250.3,250.5 261.7,251.2 273.1,246.3 284.5,258.0 295.9,268.8 307.3,280.5 318.8,281.2 330.2,283.8 341.6,287.5 353.0,284.5 364.4,291.2 375.8,296.2 387.2,294.5 398.7,302.5 410.1,311.2 421.5,325.5 432.9,326.2 444.3,332.5 455.7,338.8 467.1,348.0 478.6,343.8 490.0,340.0 501.4,344.5 512.8,335.5 524.2,340.0 535.6,347.5 547.0,338.8 558.5,336.0 569.9,330.5 581.3,334.5 592.7,337.7 604.1,337.0 615.5,328.2 627.0,322.0 638.4,314.5 649.8,314.2 661.2,317.0 672.6,307.5 684.0,303.8 695.4,296.2 706.9,282.5 718.3,273.8" fill="none" stroke="#000000" stroke-width="2.3" stroke-linejoin="round" stroke-linecap="round" />
<polyline points="56.2,187.3 67.6,192.1 79.0,205.0 90.5,212.2 101.9,217.7 113.3,222.4 124.7,230.3 136.1,235.1 147.5,241.4 158.9,246.5 170.4,252.5 181.8,256.5 193.2,261.0 204.6,264.5 216.0,269.0 227.4,275.0 238.8,279.5 250.3,282.5 261.7,285.8 273.1,288.8 284.5,290.5 295.9,292.5 307.3,295.0 318.8,297.5 330.2,300.0 341.6,302.0 353.0,304.5 364.4,306.2 375.8,309.5 387.2,312.5 398.7,314.5 410.1,316.2 421.5,318.8 432.9,320.0 444.3,321.2 455.7,322.5 467.1,323.8 478.6,325.0 490.0,326.2 501.4,326.2 512.8,326.2 524.2,326.2 535.6,326.2 547.0,325.0 558.5,324.5 569.9,321.2 581.3,320.0 592.7,318.8 604.1,318.8 615.5,317.5 627.0,315.0 638.4,312.0 649.8,308.8 661.2,305.0 672.6,302.5 684.0,299.5 695.4,296.2 706.9,291.2 718.3,288.8" fill="none" stroke="#000000" stroke-width="2.3" stroke-linejoin="round" stroke-linecap="round" stroke-dasharray="4,4.3" stroke-linecap="butt"/>
<polyline points="56.2,59.8 67.6,63.2 79.0,76.5 90.5,89.5 101.9,99.5 113.3,111.0 124.7,114.8 136.1,122.8 147.5,129.0 158.9,130.4" fill="none" stroke="#ff0000" stroke-width="4.5" stroke-linejoin="round" stroke-linecap="round" />
<line x1="158.9" y1="44.5" x2="158.9" y2="453.2" stroke="#999999" stroke-width="1.3"/>
<text x="162" y="132.7" font-size="6.65" fill="#ff2020">20.70972</text>
<rect x="44.5" y="44.5" width="685.8" height="408.7" fill="none" stroke="#8a8a8a" stroke-width="1.1"/>
<line x1="90.5" y1="453.2" x2="90.5" y2="457.2" stroke="#8a8a8a" stroke-width="1.1"/>
<text x="90.5" y="467.9" font-size="6.8" font-weight="bold" text-anchor="middle" fill="#111">10</text>
<line x1="204.6" y1="453.2" x2="204.6" y2="457.2" stroke="#8a8a8a" stroke-width="1.1"/>
<text x="204.6" y="467.9" font-size="6.8" font-weight="bold" text-anchor="middle" fill="#111">20</text>
<line x1="318.8" y1="453.2" x2="318.8" y2="457.2" stroke="#8a8a8a" stroke-width="1.1"/>
<text x="318.8" y="467.9" font-size="6.8" font-weight="bold" text-anchor="middle" fill="#111">30</text>
<line x1="432.9" y1="453.2" x2="432.9" y2="457.2" stroke="#8a8a8a" stroke-width="1.1"/>
<text x="432.9" y="467.9" font-size="6.8" font-weight="bold" text-anchor="middle" fill="#111">40</text>
<line x1="547.0" y1="453.2" x2="547.0" y2="457.2" stroke="#8a8a8a" stroke-width="1.1"/>
<text x="547.0" y="467.9" font-size="6.8" font-weight="bold" text-anchor="middle" fill="#111">50</text>
<line x1="661.2" y1="453.2" x2="661.2" y2="457.2" stroke="#8a8a8a" stroke-width="1.1"/>
<text x="661.2" y="467.9" font-size="6.8" font-weight="bold" text-anchor="middle" fill="#111">60</text>
<line x1="40.5" y1="416.8" x2="44.5" y2="416.8" stroke="#8a8a8a" stroke-width="1.1"/>
<text transform="translate(35.1,416.8) rotate(-90)" font-size="6.8" text-anchor="middle" fill="#111">17</text>
<line x1="40.5" y1="339.6" x2="44.5" y2="339.6" stroke="#8a8a8a" stroke-width="1.1"/>
<text transform="translate(35.1,339.6) rotate(-90)" font-size="6.8" text-anchor="middle" fill="#111">18</text>
<line x1="40.5" y1="262.4" x2="44.5" y2="262.4" stroke="#8a8a8a" stroke-width="1.1"/>
<text transform="translate(35.1,262.4) rotate(-90)" font-size="6.8" text-anchor="middle" fill="#111">19</text>
<line x1="40.5" y1="185.2" x2="44.5" y2="185.2" stroke="#8a8a8a" stroke-width="1.1"/>
<text transform="translate(35.1,185.2) rotate(-90)" font-size="6.8" text-anchor="middle" fill="#111">20</text>
<line x1="40.5" y1="108.0" x2="44.5" y2="108.0" stroke="#8a8a8a" stroke-width="1.1"/>
<text transform="translate(35.1,108.0) rotate(-90)" font-size="6.8" text-anchor="middle" fill="#111">21</text>
<text transform="translate(19.2,248.7) rotate(-90)" font-size="6.69" text-anchor="middle" fill="#111">Ice Extent in millions of sq. km.</text>
<text transform="translate(387.2,31.35) scale(1,1.15)" font-size="7.96" font-weight="bold" text-anchor="middle" fill="#111">Global Sea Ice Extent Day 16 1978 to 2015</text>
<text x="387.1" y="483.9" font-size="6.42" text-anchor="middle" fill="#111">Day of Year</text>
<text x="387.5" y="491.8" font-size="6.42" text-anchor="middle" fill="#111" xml:space="preserve">Today's Ice Extent: 20.70972  - Record for the day: 20.86586 which occurred on 1979 1 16</text>
<text x="12" y="484.6" font-size="13.09" fill="#111">http://sunshinehours.wordpress.com</text>
<rect x="608.5" y="44.5" width="122.0" height="87.0" fill="#fff" stroke="#8a8a8a" stroke-width="1.1"/>
<line x1="613.5" y1="52.3" x2="626.5" y2="52.3" stroke="#ff0000" stroke-width="2.8"/>
<text x="631.9" y="55.7" font-size="6.46" fill="#111">2015</text>
<line x1="613.5" y1="60.2" x2="626.5" y2="60.2" stroke="#000" stroke-width="2" stroke-dasharray="4.3,4.3"/>
<text x="631.9" y="63.6" font-size="6.46" fill="#111">Mean 1981-2010</text>
<line x1="615.5" y1="68.2" x2="626.0" y2="68.2" stroke="#d3d3d3" stroke-width="8.3" stroke-linecap="round"/>
<text x="631.9" y="71.6" font-size="6.46" fill="#111">1 Standard Deviation From Mean</text>
<line x1="613.5" y1="76.2" x2="626.5" y2="76.2" stroke="#000" stroke-width="2"/>
<text x="631.9" y="79.6" font-size="6.46" fill="#111">2014</text>
<line x1="613.5" y1="84.1" x2="626.5" y2="84.1" stroke="#ffa500" stroke-width="2"/>
<text x="631.9" y="87.5" font-size="6.46" fill="#111">2013</text>
<line x1="613.5" y1="92.0" x2="626.5" y2="92.0" stroke="#0000ee" stroke-width="2"/>
<text x="631.9" y="95.5" font-size="6.46" fill="#111">2012</text>
<line x1="613.5" y1="100.0" x2="626.5" y2="100.0" stroke="#00ee00" stroke-width="2"/>
<text x="631.9" y="103.4" font-size="6.46" fill="#111">2011</text>
<line x1="613.5" y1="107.9" x2="626.5" y2="107.9" stroke="#a020f0" stroke-width="2"/>
<text x="631.9" y="111.3" font-size="6.46" fill="#111">2010</text>
<line x1="613.5" y1="115.9" x2="626.5" y2="115.9" stroke="#ffff00" stroke-width="2"/>
<text x="631.9" y="119.3" font-size="6.46" fill="#111">2009</text>
<line x1="613.5" y1="123.8" x2="626.5" y2="123.8" stroke="#aaa" stroke-width="1"/>
<text x="631.9" y="127.2" font-size="6.46" fill="#111">Every Other Year</text>
<line x1="661.2" y1="45.5" x2="661.2" y2="131.5" stroke="#e8e8e8" stroke-width="0.8" stroke-dasharray="1.5,2"/>
</svg></body></html>
